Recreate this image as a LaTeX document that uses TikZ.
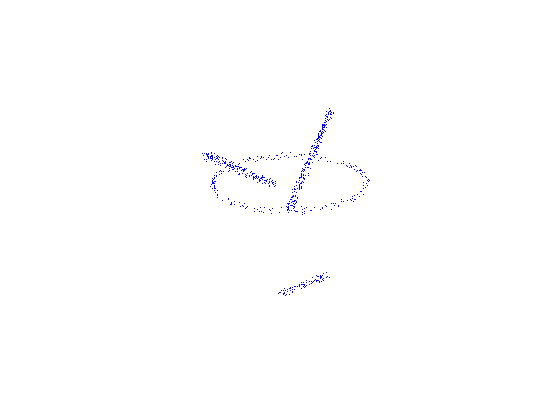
\documentclass[tikz,border=0pt]{standalone}
\tikzset{dotpx/.style={fill=blue,draw=none}}
\newcommand{\putdot}[2]{%
  \pgfmathsetmacro{\px}{floor(#1)}\pgfmathsetmacro{\py}{floor(#2)}%
  \fill[dotpx] (\px,\py) rectangle ++(1.25,1.25);}
\begin{document}
\begin{tikzpicture}[x=1pt,y=-1pt]
\useasboundingbox (0,0) rectangle (560,420);
\pgfmathsetseed{4711}
% ring
\foreach \i in {1,...,215}{
  \pgfmathsetmacro{\t}{rnd*360}
  \pgfmathsetmacro{\u}{rand}
  \pgfmathsetmacro{\v}{rand}
  \pgfmathsetmacro{\a}{290+77*cos(\t)+3*\u*cos(\t)+0.8*\v}
  \pgfmathsetmacro{\b}{183.5+27.5*sin(\t)-1.2*cos(\t)+3*\u*sin(\t)+1.2*\v}
  \putdot{\a}{\b}
}
% left stroke, denser and wider at its far end
\foreach \i in {1,...,210}{
  \pgfmathsetmacro{\s}{rnd^1.2}
  \pgfmathsetmacro{\u}{rand}
  \pgfmathsetmacro{\v}{rand}
  \pgfmathsetmacro{\a}{205+71*\s+3*\u+1.5*\v}
  \pgfmathsetmacro{\b}{155+30*\s+(5-1.5*\s)*\v-1.5*\u}
  \putdot{\a}{\b}
}
% steep stroke
\foreach \i in {1,...,270}{
  \pgfmathsetmacro{\s}{rnd}
  \pgfmathsetmacro{\u}{rand}
  \pgfmathsetmacro{\v}{rand}
  \pgfmathsetmacro{\a}{288.5+43*\s+2.8*\u+0.8*\v}
  \pgfmathsetmacro{\b}{211-102*\s+1*\u+2.5*\v}
  \putdot{\a}{\b}
}
% lower stroke
\foreach \i in {1,...,85}{
  \pgfmathsetmacro{\s}{rnd}
  \pgfmathsetmacro{\u}{rand}
  \pgfmathsetmacro{\v}{rand}
  \pgfmathsetmacro{\a}{279+51*\s+1.5*\u}
  \pgfmathsetmacro{\b}{294.5-20*\s+3.6*\v}
  \putdot{\a}{\b}
}
\end{tikzpicture}
\end{document}
